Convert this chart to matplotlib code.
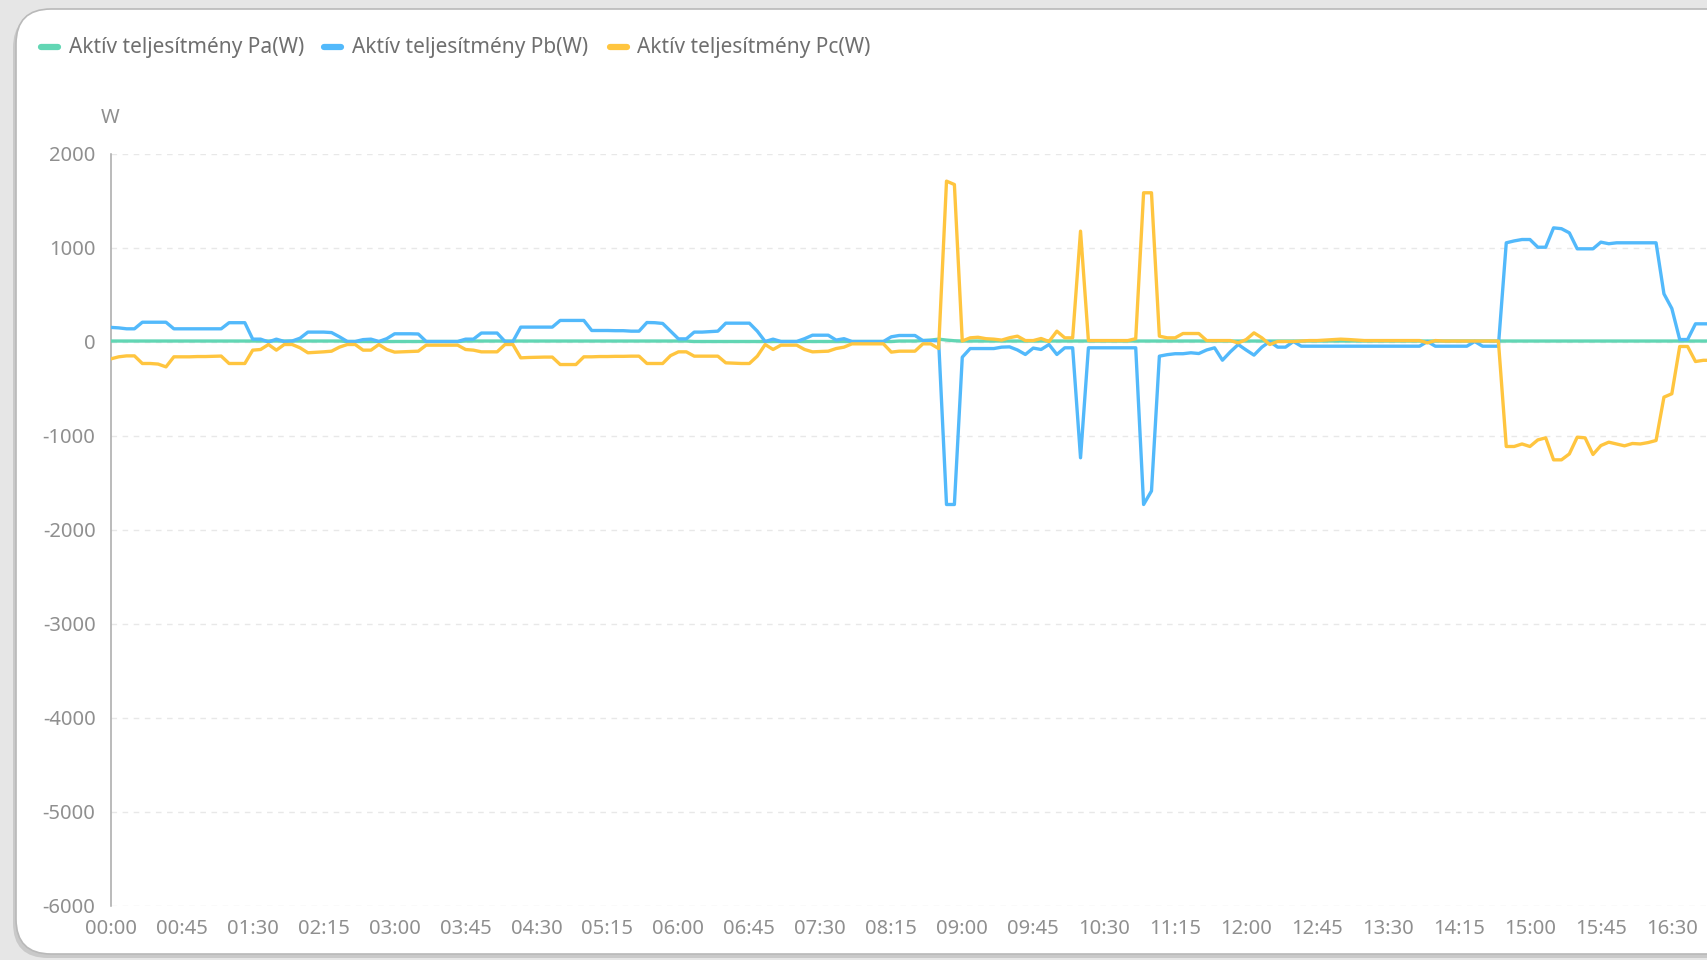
import matplotlib
matplotlib.use("Agg")
import matplotlib.pyplot as plt
from matplotlib.patches import FancyBboxPatch
from matplotlib.lines import Line2D

plt.rcParams['font.family'] = ['Noto Sans', 'DejaVu Sans']
plt.rcParams['axes.unicode_minus'] = False

# ---- data (5-minute samples from 00:00, visible part of the day) ----
pa = [5, 5, 5, 5, 5, 5, 5, 5, 5, 5, 5, 5, 5, 5, 5, 5, 5, 5, 5, 5,
      5, 5, 5, 5, 5, 5, 5, 5, 5, 5, 0, 0, 0, 0, 0, 0, 0, 0, 0, 0,
      0, 0, 0, 0, 0, 5, 5, 5, 5, 5, 5, 5, 5, 5, 5, 5, 5, 5, 5, 5,
      5, 5, 5, 5, 5, 5, 5, 5, 5, 5, 5, 5, 5, 5, 0, 0, 0, 0, 0, 0,
      0, 0, 0, 0, 0, 0, 0, 0, 0, 0, 0, 0, 0, 0, 0, 0, 0, 0, 0, 0,
      5, 5, 5, 10, 15, 25, 15, 8, 5, 5, 5, 5, 5, 5, 5, 5, 5, 5, 5, 5,
      5, 5, 5, 5, 5, 5, 5, 5, 5, 5, 5, 5, 5, 5, 5, 5, 5, 5, 5, 5,
      5, 5, 5, 5, 5, 5, 5, 5, 5, 5, 5, 5, 5, 5, 5, 5, 5, 5, 5, 5,
      5, 5, 5, 5, 5, 5, 5, 5, 5, 5, 5, 5, 5, 5, 5, 5, 5, 5, 5, 5,
      5, 5, 5, 5, 5, 5, 5, 5, 5, 5, 5, 5, 5, 5, 5, 5, 5, 5, 5, 5,
      5, 5, 5, 5]

pb = [150, 145, 135, 135, 205, 205, 205, 205, 135, 135,
      135, 135, 135, 135, 135, 200, 200, 200, 25, 25,
      -5, 25, 0, 5, 35, 100, 100, 100, 95, 50,
      0, 0, 20, 25, 0, 30, 82, 82, 82, 80,
      0, 0, 0, 0, 0, 25, 25, 90, 90, 90,
      0, 0, 153, 153, 153, 153, 153, 224, 224, 224,
      224, 117, 117, 117, 115, 115, 110, 110, 202, 200,
      192, 110, 28, 28, 100, 100, 105, 110, 195, 195,
      195, 195, 110, 0, 25, 0, 0, 0, 30, 67,
      67, 67, 15, 30, 0, 0, 0, 0, 0, 50,
      64, 64, 64, 10, 10, 10, -1734, -1734, -167, -75,
      -75, -75, -75, -60, -57, -90, -138, -70, -85, -32,
      -138, -67, -67, -1237, -67, -67, -67, -67, -67, -67,
      -67, -1734, -1590, -156, -140, -130, -130, -120, -128, -90,
      -67, -199, -110, -32, -90, -145, -60, 0, -60, -60,
      0, -50, -50, -50, -50, -50, -50, -50, -50, -50,
      -50, -50, -50, -50, -50, -50, -50, 0, -50, -50,
      -50, -50, -50, 0, -50, -50, -50, 1050, 1070, 1085,
      1085, 1003, 1003, 1209, 1200, 1156, 986, 986, 986, 1057,
      1040, 1050, 1050, 1050, 1050, 1050, 1050, 507, 351, 21,
      21, 188, 188, 188]

pc = [-185, -163, -153, -153, -234, -234, -240, -270, -163, -163,
      -163, -160, -160, -158, -155, -234, -234, -234, -92, -85,
      -32, -92, -32, -32, -67, -120, -115, -110, -103, -60,
      -32, -32, -92, -92, -32, -85, -113, -110, -106, -103,
      -39, -39, -39, -39, -39, -85, -92, -110, -110, -110,
      -32, -32, -174, -170, -168, -166, -166, -245, -245, -245,
      -163, -163, -160, -160, -158, -158, -156, -156, -234, -234,
      -234, -150, -110, -110, -156, -156, -156, -156, -227, -230,
      -234, -234, -156, -32, -85, -39, -39, -39, -85, -110,
      -106, -103, -75, -60, -25, -25, -25, -25, -25, -113,
      -103, -103, -103, -25, -25, -75, 1706, 1670, 5, 39,
      45, 30, 25, 15, 40, 57, 10, 10, 32, 0,
      110, 39, 39, 1174, 10, 10, 10, 10, 10, 10,
      30, 1582, 1582, 57, 39, 39, 85, 85, 85, 10,
      10, 10, 10, -15, 20, 92, 39, -32, 0, 0,
      0, 5, 10, 10, 15, 21, 25, 21, 15, 10,
      10, 10, 10, 10, 10, 10, 10, -15, 10, 5,
      5, 5, 5, 5, 5, 5, 5, -1117, -1117, -1090,
      -1117, -1047, -1025, -1259, -1259, -1196, -1018, -1025, -1202, -1107,
      -1071, -1090, -1110, -1085, -1090, -1075, -1053, -592, -556, -53,
      -53, -213, -200, -200]

times = ["%02d:%02d" % (m // 60, m % 60) for m in range(0, 24 * 60, 5)]
y_ticks = [2000, 1000, 0, -1000, -2000, -3000, -4000, -5000, -6000]
series_names = ["Aktív teljesítmény Pa(W)", "Aktív teljesítmény Pb(W)", "Aktív teljesítmény Pc(W)"]
colors = ["#62d6b4", "#52b9fb", "#ffc53f"]

# ---- figure ----
W, H = 1708, 960
fig = plt.figure(figsize=(W / 100, H / 100), dpi=100)
fig.patch.set_facecolor("#e6e6e6")

# card with shadow
tr = fig.dpi_scale_trans
shadow = FancyBboxPatch((0.13, 0.02), 17.3, 9.45, boxstyle="round,pad=0,rounding_size=0.35",
                        transform=tr, facecolor="#c9c9c9", edgecolor="none", zorder=0)
card = FancyBboxPatch((0.16, 0.06), 17.3, 9.45, boxstyle="round,pad=0,rounding_size=0.35",
                      transform=tr, facecolor="white", edgecolor="#b9b9b9", linewidth=1.2, zorder=0.5)
fig.patches.extend([shadow, card])

# axes: x pixel 110.8 is index 0, 7.884 px per sample; y 2000 at ~153.5 px, -6000 at ~905.5 px
x0 = 110.8
step = 7.884
n_all = len(times)
y_top_px, y_bot_px = 153.5, 905.5
ax_left = x0 / W
ax_w = (n_all - 1) * step / W
ax_bottom = (H - y_bot_px) / H
ax_h = (y_bot_px - y_top_px) / H
ax = fig.add_axes([ax_left, ax_bottom, ax_w, ax_h])
ax.set_zorder(2)
ax.set_facecolor("none")
ax.set_xlim(0, n_all - 1)
ax.set_ylim(-6000, 2000)

idx = list(range(len(pb)))
for vals, c, z in zip([pa, pb, pc], colors, [3, 4, 5]):
    ax.plot(idx[:len(vals)], vals, color=c, linewidth=2.4, zorder=z, solid_joinstyle="round")

ax.set_yticks(y_ticks)
ax.set_yticklabels([str(v) for v in y_ticks])
vis_ticks = list(range(0, 199, 9))
ax.set_xticks(vis_ticks)
ax.set_xticklabels([times[i] for i in vis_ticks])
ax.tick_params(axis="both", length=0, labelsize=14.5, labelcolor="#8f8f8f")
ax.tick_params(axis="y", pad=11)
ax.tick_params(axis="x", pad=10)
for s in ["top", "right", "bottom"]:
    ax.spines[s].set_visible(False)
ax.spines["left"].set_color("#a8a8a8")
ax.spines["left"].set_linewidth(1.1)
ax.grid(axis="y", color="#e8e8e8", linestyle=(0, (4, 4)), linewidth=1.0)
ax.set_axisbelow(True)

# unit label
fig.text(110 / W, 1 - 118 / H, "W", ha="center", va="center", fontsize=14.5, color="#8f8f8f")

# legend
leg_y = 1 - 47 / H
marker_x = [(41, 58), (324, 341), (610, 627)]
text_x = [69, 352, 637]
for (a, b), tx, name, c in zip(marker_x, text_x, series_names, colors):
    fig.add_artist(Line2D([a / W, b / W], [leg_y, leg_y], transform=fig.transFigure,
                          color=c, linewidth=4.5, solid_capstyle="round"))
    fig.text(tx / W, leg_y, name, ha="left", va="center", fontsize=15, color="#6f6f6f")

fig.savefig("out.png", dpi=100)
